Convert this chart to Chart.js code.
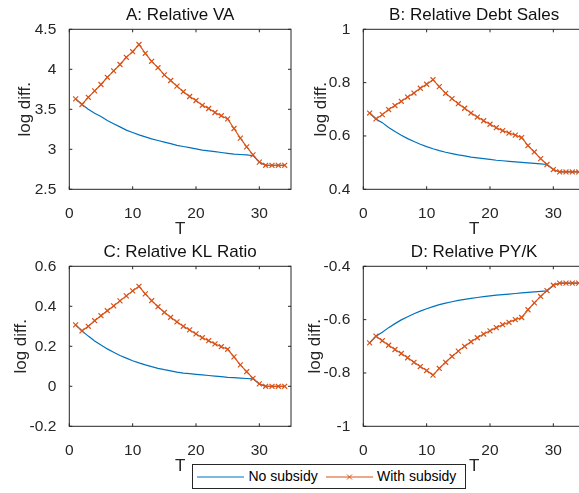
<!DOCTYPE html>
<html>
<head>
<meta charset="utf-8">
<script src="https://cdn.jsdelivr.net/npm/chart.js@4.4.1/dist/chart.umd.min.js"></script>
<style>
  html, body { margin: 0; padding: 0; background: #fff; }
  body { width: 579px; height: 493px; overflow: hidden; position: relative; }
  canvas { position: absolute; }
  #legend { position: absolute; left: 191.5px; top: 464px; width: 272px; height: 23px;
    border: 1px solid #262626; background: #fff; z-index: 5;
    font-family: 'Liberation Sans', Arial, sans-serif; font-size: 14px; color: #000; }
  #legend .item { position: absolute; top: 0; height: 23px; line-height: 23px; white-space: nowrap; }
  #legend svg { position: absolute; top: 0; }
</style>
</head>
<body>
<canvas id="cA" width="300" height="240" style="left:0px;top:0px"></canvas>
<canvas id="cB" width="300" height="240" style="left:294px;top:0px"></canvas>
<canvas id="cC" width="300" height="240" style="left:0px;top:237px"></canvas>
<canvas id="cD" width="300" height="240" style="left:294px;top:237px"></canvas>
<div id="legend"></div>
<script>
// ---------- data ----------
const T = [1,2,3,4,5,6,7,8,9,10,11,12,13,14,15,16,17,18,19,20,21,22,23,24,25,26,27,28,29,30,31,32,33,34];
const seriesNames = ['No subsidy', 'With subsidy'];
const titles = ['A: Relative VA', 'B: Relative Debt Sales', 'C: Relative KL Ratio', 'D: Relative PY/K'];
const xTicks = [0, 10, 20, 30];

const vaNo  = [3.63,3.56,3.50,3.45,3.41,3.36,3.32,3.28,3.24,3.21,3.18,3.155,3.13,3.11,3.09,3.07,3.05,3.035,3.02,3.005,2.99,2.98,2.97,2.96,2.95,2.94,2.935,2.93,2.92,2.84,2.80,2.80,2.80,2.80];
const vaSub = [3.63,3.56,3.65,3.73,3.81,3.90,3.98,4.06,4.15,4.22,4.31,4.20,4.10,4.02,3.93,3.86,3.79,3.72,3.66,3.61,3.55,3.51,3.46,3.42,3.38,3.26,3.14,3.03,2.93,2.84,2.80,2.80,2.80,2.80];
const vaTicks = [2.5, 3, 3.5, 4, 4.5];

const dsNo  = [0.686,0.664,0.650,0.632,0.617,0.603,0.590,0.579,0.569,0.560,0.552,0.545,0.539,0.534,0.529,0.525,0.521,0.518,0.515,0.512,0.509,0.507,0.505,0.503,0.501,0.499,0.497,0.495,0.493,0.474,0.465,0.465,0.465,0.465];
const dsSub = [0.686,0.664,0.680,0.699,0.714,0.730,0.746,0.761,0.779,0.794,0.811,0.785,0.760,0.740,0.721,0.704,0.686,0.671,0.657,0.644,0.631,0.620,0.611,0.603,0.594,0.564,0.540,0.515,0.493,0.474,0.465,0.465,0.465,0.465];
const dsTicks = [0.4, 0.6, 0.8, 1];

const klNo  = [0.307,0.277,0.251,0.227,0.206,0.187,0.170,0.154,0.141,0.128,0.117,0.107,0.098,0.090,0.083,0.077,0.071,0.066,0.063,0.060,0.057,0.054,0.051,0.048,0.045,0.043,0.041,0.039,0.037,0.012,0,0,0,0];
const klSub = [0.307,0.277,0.300,0.328,0.353,0.378,0.402,0.427,0.452,0.477,0.500,0.462,0.428,0.398,0.370,0.345,0.322,0.300,0.282,0.262,0.243,0.228,0.212,0.198,0.185,0.147,0.107,0.073,0.040,0.012,0,0,0,0];
const klTicks = [-0.2, 0, 0.2, 0.4, 0.6];

const pyNo  = [-0.687,-0.662,-0.647,-0.630,-0.615,-0.601,-0.589,-0.578,-0.568,-0.559,-0.551,-0.544,-0.538,-0.533,-0.528,-0.524,-0.520,-0.517,-0.514,-0.511,-0.508,-0.506,-0.504,-0.502,-0.500,-0.498,-0.496,-0.494,-0.492,-0.471,-0.463,-0.463,-0.463,-0.463];
const pySub = [-0.687,-0.662,-0.679,-0.696,-0.712,-0.727,-0.743,-0.760,-0.776,-0.791,-0.808,-0.783,-0.760,-0.738,-0.718,-0.700,-0.683,-0.668,-0.654,-0.642,-0.630,-0.619,-0.610,-0.600,-0.592,-0.563,-0.537,-0.513,-0.491,-0.471,-0.463,-0.463,-0.463,-0.463];
const pyTicks = [-1, -0.8, -0.6, -0.4];

// ---------- style ----------
const FONT = "'Liberation Sans', Arial, sans-serif";
const AXC = '#262626';
const BLUE = '#0072BD';
const RED = '#D95319';

const boxPlugin = {
  id: 'matlabBox',
  afterDatasetsDraw(chart) {
    const { ctx, chartArea: a, scales: { x, y } } = chart;
    ctx.save();
    ctx.strokeStyle = AXC;
    ctx.lineWidth = 1;
    ctx.strokeRect(a.left, a.top, a.right - a.left, a.bottom - a.top);
    const L = 3;
    ctx.beginPath();
    x.ticks.forEach(t => {
      const px = x.getPixelForValue(t.value);
      ctx.moveTo(px, a.bottom); ctx.lineTo(px, a.bottom - L);
      ctx.moveTo(px, a.top); ctx.lineTo(px, a.top + L);
    });
    y.ticks.forEach(t => {
      const py = y.getPixelForValue(t.value);
      ctx.moveTo(a.left, py); ctx.lineTo(a.left + L, py);
      ctx.moveTo(a.right, py); ctx.lineTo(a.right - L, py);
    });
    ctx.stroke();
    ctx.restore();
  }
};

function pts(arr) { return T.map((t, i) => ({ x: t, y: arr[i] })); }

function makeChart(id, title, noArr, subArr, yTicks, yTitleX) {
  const font = { family: FONT, size: 15.5 };
  const lblFont = { family: FONT, size: 17 };
  return new Chart(document.getElementById(id), {
    type: 'line',
    data: {
      datasets: [
        { label: seriesNames[1], data: pts(subArr), borderColor: RED, backgroundColor: RED,
          borderWidth: 1.2, pointStyle: 'crossRot', pointRadius: 3.5, pointBorderWidth: 1.2,
          pointBorderColor: RED, tension: 0, order: 0 },
        { label: seriesNames[0], data: pts(noArr), borderColor: BLUE, backgroundColor: BLUE,
          borderWidth: 1.2, pointRadius: 0, tension: 0, order: 1 }
      ]
    },
    options: {
      responsive: false, animation: false, devicePixelRatio: 1,
      layout: { padding: { left: 0, right: 9, top: 0, bottom: 0 } },
      plugins: {
        legend: { display: false }, tooltip: { enabled: false },
        title: { display: true, text: title, color: '#111', fullSize: false,
          font: { family: FONT, size: 17, weight: 'normal' }, padding: { top: 5, bottom: 3.9 } }
      },
      scales: {
        x: {
          type: 'linear', min: 0, max: 35,
          afterBuildTicks: ax => { ax.ticks = xTicks.map(v => ({ value: v })); },
          afterFit: ax => { ax.height = 50.7; },
          grid: { display: false }, border: { display: false },
          ticks: { color: AXC, font, padding: 7, maxRotation: 0, autoSkip: false },
          title: { display: true, text: 'T', color: AXC, font: lblFont, padding: { top: 0, bottom: 0.5 } }
        },
        y: {
          type: 'linear', min: yTicks[0], max: yTicks[yTicks.length - 1],
          afterBuildTicks: ax => { ax.ticks = yTicks.map(v => ({ value: v })); },
          afterFit: ax => { ax.width = 69.3; },
          grid: { display: false }, border: { display: false },
          ticks: { color: AXC, font, padding: 5, autoSkip: false, callback: v => String(v) },
          title: { display: true, text: 'log diff.', color: AXC, font: lblFont,
            padding: { top: yTitleX - 10.2, bottom: 0 } }
        }
      }
    },
    plugins: [boxPlugin]
  });
}

makeChart('cA', titles[0], vaNo, vaSub, vaTicks, 25);
makeChart('cB', titles[1], dsNo, dsSub, dsTicks, 27);
makeChart('cC', titles[2], klNo, klSub, klTicks, 21.7);
makeChart('cD', titles[3], pyNo, pySub, pyTicks, 21.8);

// ---------- legend (HTML) ----------
const leg = document.getElementById('legend');
const legItems = [
  { name: seriesNames[0], color: BLUE, marker: false, lineX: 4.5, textX: 56 },
  { name: seriesNames[1], color: RED, marker: true, lineX: 133.5, textX: 184.5 }
];
legItems.forEach(it => {
  const svgNS = 'http://www.w3.org/2000/svg';
  const svg = document.createElementNS(svgNS, 'svg');
  svg.setAttribute('width', '48'); svg.setAttribute('height', '23');
  svg.style.left = it.lineX + 'px';
  const ln = document.createElementNS(svgNS, 'line');
  ln.setAttribute('x1', '0'); ln.setAttribute('x2', '47');
  ln.setAttribute('y1', '12'); ln.setAttribute('y2', '12');
  ln.setAttribute('stroke', it.color); ln.setAttribute('stroke-width', '1.2');
  svg.appendChild(ln);
  if (it.marker) {
    const p = document.createElementNS(svgNS, 'path');
    p.setAttribute('d', 'M21 9.5 L26 14.5 M21 14.5 L26 9.5');
    p.setAttribute('stroke', it.color); p.setAttribute('stroke-width', '1');
    svg.appendChild(p);
  }
  leg.appendChild(svg);
  const sp = document.createElement('span');
  sp.className = 'item'; sp.style.left = it.textX + 'px';
  sp.textContent = it.name;
  leg.appendChild(sp);
});
</script>
</body>
</html>
